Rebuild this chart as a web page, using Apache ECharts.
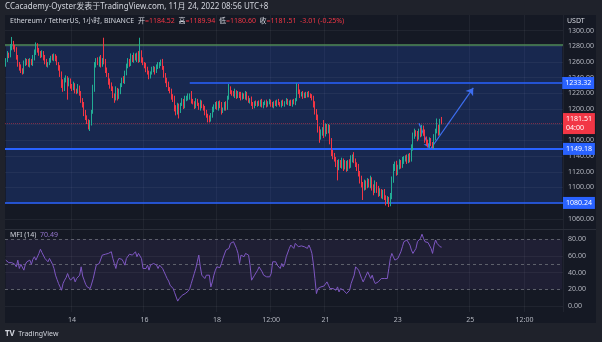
<!DOCTYPE html>
<html><head><meta charset="utf-8">
<script src="https://cdn.jsdelivr.net/npm/echarts@6/dist/echarts.min.js"></script>
<style>html,body{margin:0;padding:0;background:#1f222b}#c{width:602px;height:342px}</style>
</head><body><div id="c"></div>
<script>
// ---------- DATA ----------
const firstOpen = 1258;
const closes = [
1262,1270,1268,1278,1284,1280,1275,1266,1258,1254,
1250,1247,1258,1262,1260,1256,1262,1258,1264,1272,
1281,1276,1270,1268,1272,1266,1260,1256,1258,1262,
1266,1264,1268,1265,1258,1252,1245,1232,1226,1236,
1240,1232,1236,1230,1226,1230,1224,1222,1228,1220,
1212,1205,1196,1190,1184,1178,1182,1196,1226,1256,
1262,1258,1264,1256,1262,1260,1250,1244,1236,1230,
1226,1218,1214,1224,1215,1222,1230,1238,1236,1246,
1254,1262,1258,1266,1262,1268,1264,1270,1262,1272,
1262,1258,1256,1250,1246,1242,1246,1250,1252,1248,
1254,1256,1258,1260,1252,1244,1236,1232,1226,1222,
1216,1212,1202,1196,1204,1198,1206,1210,1204,1212,
1214,1216,1218,1210,1208,1204,1210,1206,1202,1208,
1204,1200,1196,1192,1188,1186,1192,1198,1204,1206,
1202,1208,1204,1198,1200,1206,1202,1214,1226,1222,
1220,1218,1222,1216,1220,1218,1214,1218,1216,1220,
1214,1210,1212,1206,1204,1208,1206,1208,1206,1210,
1204,1207,1209,1205,1208,1210,1206,1204,1208,1206,
1210,1207,1205,1209,1206,1208,1211,1207,1209,1206,
1210,1208,1212,1228,1222,1218,1220,1216,1219,1217,
1220,1218,1216,1214,1206,1198,1190,1176,1166,1170,
1174,1168,1178,1172,1176,1160,1146,1140,1136,1130,
1126,1132,1128,1134,1126,1130,1124,1132,1128,1136,
1138,1134,1130,1126,1118,1110,1104,1100,1106,1102,
1108,1104,1110,1100,1096,1104,1098,1092,1096,1090,
1094,1088,1082,1086,1080,1088,1110,1124,1130,1120,
1126,1132,1128,1134,1136,1138,1134,1140,1136,1150,
1166,1170,1168,1164,1172,1168,1176,1170,1162,1158,
1154,1160,1156,1152,1164,1172,1176,1170,1184.52,1181.51
];
const wickUp = [
3,4,2,5,8,3,2,4,3,2,
3,2,4,3,2,4,3,2,5,4,
4,3,2,4,3,2,3,4,2,3,
2,4,3,2,3,2,4,3,6,4,
3,2,4,3,2,5,3,2,4,2,
3,2,4,3,2,3,4,3,5,4,
3,4,3,5,3,29,4,3,2,3,
4,3,2,5,3,4,3,2,4,3,
4,3,2,5,3,4,3,2,4,19,
3,4,2,3,4,3,2,4,3,2,
3,4,2,3,4,3,2,4,3,2,
4,3,5,3,4,3,2,4,3,5,
3,4,2,5,3,2,4,3,2,4,
3,2,4,3,2,4,3,5,2,3,
4,2,3,5,2,3,4,3,6,3,
2,3,4,2,3,2,4,3,2,3,
2,3,2,4,3,2,3,2,3,2,
3,2,2,3,2,3,2,3,2,3,
2,3,2,2,3,2,3,2,2,3,
2,3,2,5,4,3,2,3,2,3,
2,3,2,3,3,4,2,3,2,4,
3,12,4,3,5,4,3,2,4,3,
5,4,3,4,3,5,4,3,4,5,
4,7,3,2,4,3,5,3,4,3,
4,3,5,3,4,5,3,4,3,2,
3,4,2,3,2,5,4,6,3,4,
3,4,3,5,4,3,4,3,4,5,
4,5,3,4,3,4,4,3,4,3,
3,4,3,2,4,3,12,4,3,5.42
];
const wickDn = [
4,2,3,2,3,4,2,3,4,5,
4,3,2,3,4,2,3,2,3,2,
3,4,2,3,2,4,3,2,3,2,
3,2,3,4,2,3,4,5,4,3,
2,20,3,4,3,2,4,3,2,3,
4,3,5,4,3,4,6,3,2,4,
3,2,4,3,2,3,4,3,5,4,
3,4,6,3,4,2,3,2,3,4,
3,2,4,3,2,3,2,4,3,2,
3,2,4,3,2,4,3,2,3,4,
2,3,4,3,2,4,3,4,3,2,
4,3,5,4,3,10,3,2,4,3,
2,3,4,3,2,4,3,2,3,4,
3,2,4,3,5,3,2,3,2,4,
3,4,3,5,3,2,4,3,2,3,
3,2,4,3,2,4,3,2,3,4,
3,2,3,2,4,3,2,3,2,3,
2,3,2,3,2,2,3,2,3,2,
3,2,2,3,2,3,2,2,3,2,
3,2,3,2,3,4,2,3,2,3,
2,3,2,3,4,5,4,6,9,5,
4,5,3,4,3,5,6,4,3,4,
17,4,3,4,5,3,4,3,4,3,
4,3,4,5,4,5,4,16,4,5,
3,4,5,4,6,3,5,4,3,4,
5,4,5,3,5,4,3,4,3,5,
4,3,4,3,4,3,4,3,4,3,
3,4,3,5,3,4,3,4,5,4,
3,4,3,2,3,4,3,4,3,0.91
];
const mfi = [
55,53,52,51,52,53,50,47,55,45,
50,48,43,50,53,51,55,50,56,59,
55,57,63,68,64,62,57,59,53,57,
55,50,45,37,32,27,23,19,27,31,
34,39,34,31,33,35,29,33,35,37,
47,36,31,26,23,22,21,23,33,41,
49,47,51,53,61,62,62,62,63,63,
65,57,51,45,53,57,59,56,53,49,
57,59,62,63,61,63,65,59,63,65,
57,45,47,45,49,43,49,47,51,51,
49,45,49,47,45,41,37,33,30,25,
23,21,16,11,6,9,11,13,14,15,
16,18,21,27,33,39,45,53,61,47,
37,35,33,37,35,37,23,29,37,43,
47,46,46,51,57,59,67,65,69,75,
77,77,75,69,63,51,61,63,59,63,
61,61,49,31,33,37,39,43,47,45,
41,37,39,35,33,35,39,53,55,53,
49,47,45,51,47,51,59,61,69,73,
71,69,75,73,71,73,72,72,71,71,
69,73,69,63,50,33,15,21,23,23,
23,24,25,29,25,21,21,21,20,19,
23,17,21,21,19,17,15,13,19,27,
29,37,47,45,43,41,33,29,33,37,
41,43,33,37,31,27,29,29,31,33,
33,33,31,33,45,57,63,59,55,56,
57,61,65,71,77,79,79,79,73,67,
63,66,69,77,77,81,86,81,77,75,
76,77,69,63,73,79,75,73,71,70.49
];
const priceTicks = [1060,1080,1100,1120,1140,1160,1180,1200,1220,1240,1260,1280,1300];
const mfiTicks = [0,20,40,60,80];
const mfiBands = [80,50,20];
const timeTickKeys = ['11-14 00','11-16 00','11-18 00','11-19 12','11-21 00','11-23 00','11-25 00','11-26 12'];
const timeTickText = ['14','16','18','12:00','21','23','25','12:00'];
const zoneTop = 1281.5;
const resistance = 1233.32;
const support = 1149.18;
const bottomLevel = 1080.24;
const lastPrice = 1181.51;
const resistStartIdx = 122;
const arrowDown = [[274,1182],[281,1150]];
const arrowUp = [[282,1150],[310,1227]];
const totalSlots = 370;

// ---------- BUILD ----------
const FONT = "'Noto Sans','Noto Sans CJK SC',sans-serif";
const categories = [];
const t0 = Date.UTC(2022,10,12,4);
for (let k=0;k<totalSlots;k++){
  const d = new Date(t0 + k*3600e3);
  const p = n => String(n).padStart(2,'0');
  categories.push(p(d.getUTCMonth()+1)+'-'+p(d.getUTCDate())+' '+p(d.getUTCHours()));
}
const tickMap = {};
timeTickKeys.forEach((k,j)=>{tickMap[k]=timeTickText[j];});
const tickIdx = new Set(timeTickKeys.map(k=>categories.indexOf(k)));

const candles = closes.map((c,i)=>{
  const o = i===0 ? firstOpen : closes[i-1];
  return [o, c, Math.min(o,c)-wickDn[i], Math.max(o,c)+wickUp[i]];
});

const UP='#22ab94', DN='#f23645', BLUE='#2962ff';
const tagLabel = (txt,bg)=>({show:true,position:'end',distance:0,formatter:txt,backgroundColor:bg,color:'#fff',fontSize:7,padding:[2,3,1,3],lineHeight:9,fontFamily:FONT});

const chart = echarts.init(document.getElementById('c'), null, {renderer:'canvas'});
const gridLineColor = 'rgba(255,255,255,0.05)';
const xBase = (gi, showLabels)=>({
  type:'category', gridIndex:gi, data:categories, boundaryGap:true,
  axisLine:{show:false}, axisTick:{show:false},
  axisLabel:{show:showLabels, interval:(i)=>tickIdx.has(i), formatter:(v)=>tickMap[v]||'', color:'#b2b5be', fontSize:7, margin:4, fontFamily:FONT},
  splitLine:{show:true, interval:(i)=>tickIdx.has(i), lineStyle:{color:gridLineColor,width:1}}
});

chart.setOption({
  backgroundColor:'#1f222b',
  animation:false,
  textStyle:{fontFamily:FONT},
  grid:[
    {left:5, top:15, width:558, height:214},
    {left:5, top:230, width:558, height:82}
  ],
  xAxis:[xBase(0,false), xBase(1,true)],
  yAxis:[
    {type:'value', gridIndex:0, position:'right', min:1047, max:1320,
     axisLine:{show:false}, axisTick:{show:false, customValues:priceTicks},
     axisLabel:{customValues:priceTicks, formatter:v=>v.toFixed(2), color:'#b2b5be', fontSize:7, margin:5, fontFamily:FONT},
     splitLine:{show:false}},
    {type:'value', gridIndex:1, position:'right', min:-7, max:91,
     axisLine:{show:false}, axisTick:{show:false, customValues:mfiTicks},
     axisLabel:{customValues:mfiTicks, formatter:v=>v.toFixed(2), color:'#b2b5be', fontSize:7, margin:5, fontFamily:FONT},
     splitLine:{show:false}}
  ],
  series:[
    { // price zone fill + faint grid
      type:'line', xAxisIndex:0, yAxisIndex:0, data:[], z:1, silent:true,
      markArea:{silent:true, itemStyle:{color:'rgba(41,98,255,0.2)'},
        data:[[{coord:[0,zoneTop]},{coord:[totalSlots-1,bottomLevel]}]]},
      markLine:{silent:true, symbol:['none','none'], label:{show:false},
        lineStyle:{color:gridLineColor,width:1,type:'solid'},
        data:priceTicks.map(v=>({yAxis:v}))}
    },
    {
      type:'candlestick', xAxisIndex:0, yAxisIndex:0, data:candles, z:5, barWidth:1,
      itemStyle:{color:UP, color0:DN, borderColor:UP, borderColor0:DN, borderWidth:1}
    },
    { // levels and drawings
      type:'line', xAxisIndex:0, yAxisIndex:0, data:[], z:10, silent:true,
      markLine:{silent:true, symbol:['none','none'], label:{show:false},
        data:[
          {yAxis:zoneTop, lineStyle:{color:'#4f8a57',width:1.5,type:'solid'}},
          {yAxis:lastPrice, lineStyle:{color:'rgba(242,54,69,0.45)',width:1,type:'dotted'}, label:tagLabel(lastPrice.toFixed(2)+'\n04:00',DN)},
          [{coord:[resistStartIdx,resistance], lineStyle:{color:BLUE,width:1.5,type:'solid'}, label:tagLabel(resistance.toFixed(2),BLUE)},{coord:[totalSlots-1,resistance]}],
          {yAxis:support, lineStyle:{color:BLUE,width:2,type:'solid'}, label:tagLabel(support.toFixed(2),BLUE)},
          {yAxis:bottomLevel, lineStyle:{color:BLUE,width:1.5,type:'solid'}, label:tagLabel(bottomLevel.toFixed(2),BLUE)},
          [{coord:arrowDown[0], symbol:'none', lineStyle:{color:'#3d6ef0',width:1.2,type:'solid'}},{coord:arrowDown[1], symbol:'arrow', symbolSize:6}],
          [{coord:arrowUp[0], symbol:'none', lineStyle:{color:'#3d6ef0',width:1.2,type:'solid'}},{coord:arrowUp[1], symbol:'arrow', symbolSize:7}]
        ]}
    },
    { // MFI band
      type:'line', xAxisIndex:1, yAxisIndex:1, data:[], z:1, silent:true,
      markArea:{silent:true, itemStyle:{color:'rgba(126,87,194,0.1)'},
        data:[[{coord:[0,80]},{coord:[totalSlots-1,20]}]]},
      markLine:{silent:true, symbol:['none','none'], label:{show:false},
        data:[
          ...mfiBands.map(v=>({yAxis:v, lineStyle:{color:'#5d606b',width:1,type:[3,3]}})),
          ...[0,40,60].map(v=>({yAxis:v, lineStyle:{color:gridLineColor,width:1,type:'solid'}}))
        ]}
    },
    {
      type:'line', xAxisIndex:1, yAxisIndex:1, data:mfi, z:5, symbol:'none',
      lineStyle:{color:'#7e57c2',width:1}
    }
  ],
  graphic:{elements:[
    {type:'rect', z:-10, silent:true, shape:{x:5,y:15,width:591,height:308}, style:{fill:'#151924'}},
    {type:'line', z:-5, silent:true, shape:{x1:5,y1:229.5,x2:596,y2:229.5}, style:{stroke:'#2a2e39',lineWidth:1}},
    {type:'text', z:50, left:5, top:3, style:{text:'CCacademy-Oyster发表于TradingView.com, 11月 24, 2022 08:56 UTC+8', fill:'#d1d4dc', font:"8px "+FONT}},
    {type:'text', z:50, left:10, top:18, style:{
      text:'{g|Ethereum / TetherUS, 1小时, BINANCE  开}{r|=1184.52}{g|  高}{r|=1189.94}{g|  低}{r|=1180.60}{g|  收}{r|=1181.51  -3.01 (-0.25%)}',
      rich:{g:{fill:'#d1d4dc',font:"7px "+FONT},r:{fill:'#f23645',font:"7px "+FONT}}}},
    {type:'text', z:50, left:567, top:18, style:{text:'USDT', fill:'#d1d4dc', font:"7px "+FONT}},
    {type:'text', z:50, left:10, top:232, style:{
      text:'{g|MFI (14)}{p|  70.49}', rich:{g:{fill:'#d1d4dc',font:"7px "+FONT},p:{fill:'#9575cd',font:"7px "+FONT}}}},
    {type:'text', z:50, left:5, top:328, style:{text:'{b|TV} {t|TradingView}', rich:{b:{fill:'#d1d4dc',font:"bold 8px "+FONT},t:{fill:'#d1d4dc',font:"7px "+FONT}}}}
  ]}
});
</script></body></html>
